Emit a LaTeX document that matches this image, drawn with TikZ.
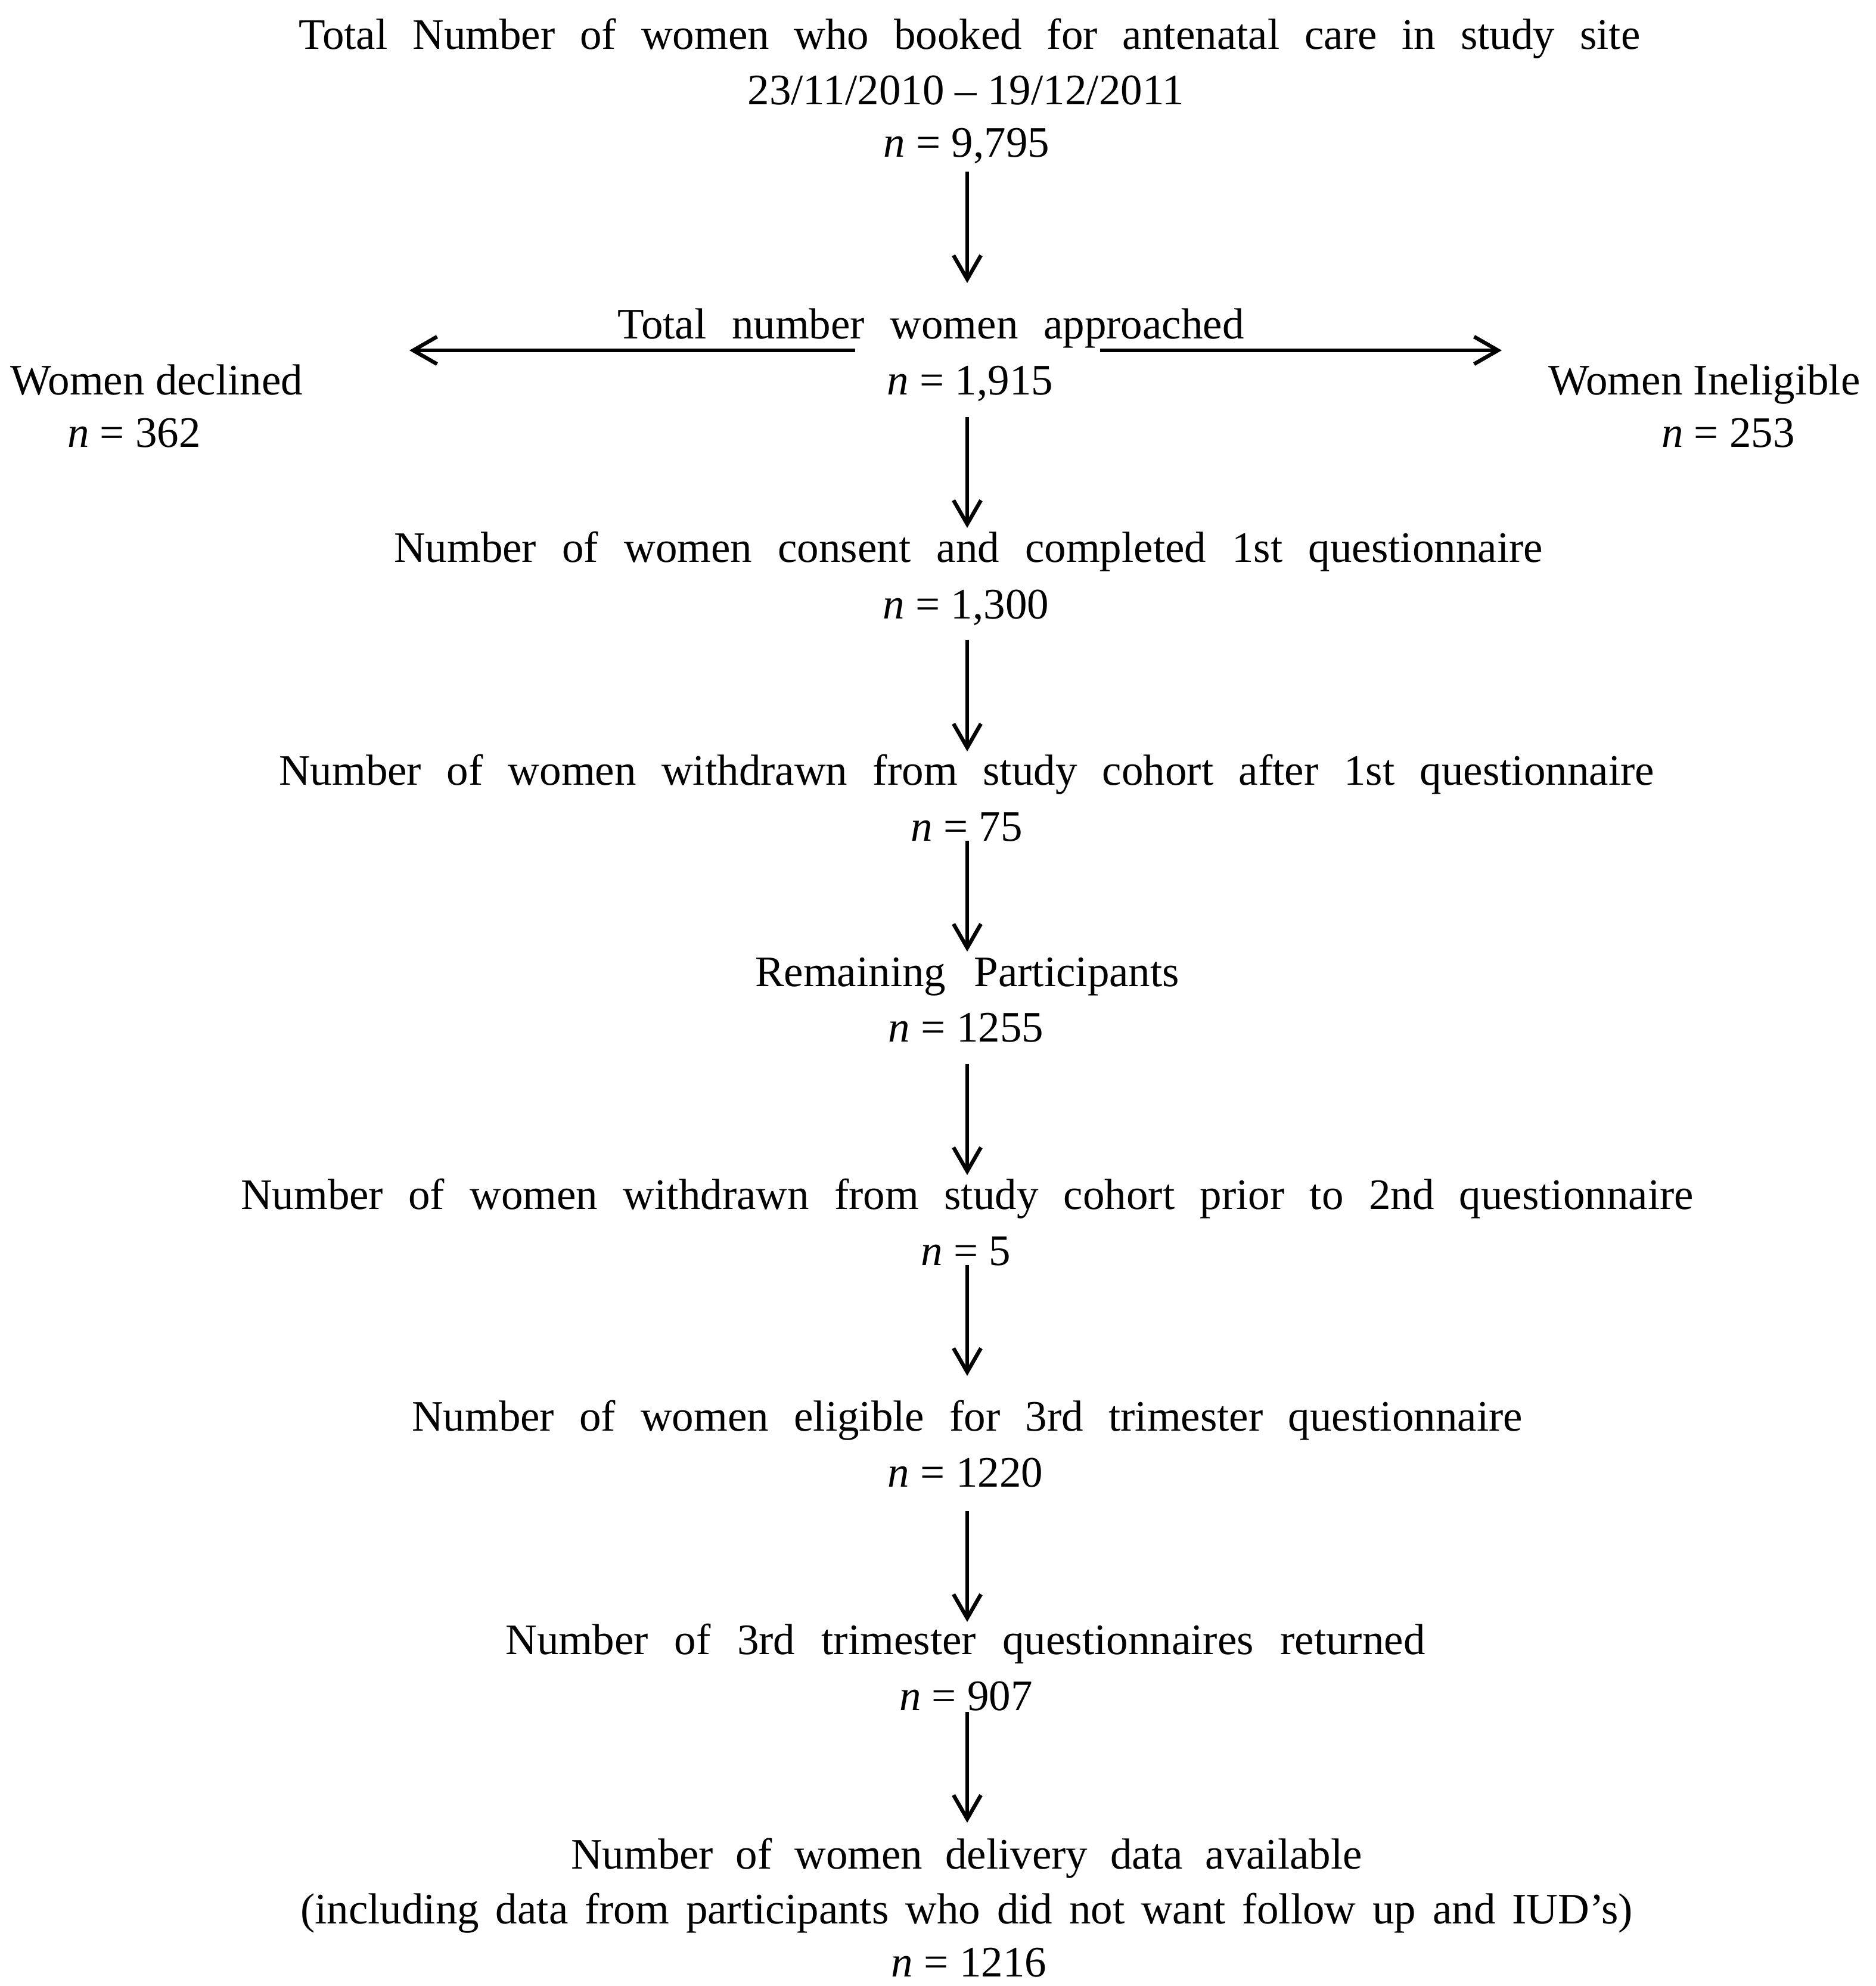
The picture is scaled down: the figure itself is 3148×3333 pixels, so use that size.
\documentclass[tikz,border=0pt]{standalone}
\usepackage{fontspec}
\setmainfont{Liberation Serif}
\usetikzlibrary{arrows.meta}
\newcommand\stretchline[2]{\makebox[#1][s]{#2}}
\begin{document}
\begin{tikzpicture}[x=0.25pt,y=-0.25pt,
  txt/.style={inner sep=0pt, anchor=base, font=\fontsize{18.25pt}{23pt}\selectfont},
  flow/.style={line width=1.6pt, -{Straight Barb[length=10pt,width=11.5pt]}}]
\useasboundingbox (0,0) rectangle (3148,3333);
% texts
\node[txt] (t1) at (1627,82) {\stretchline{562.75pt}{Total Number of women who booked for antenatal care in study site}};
\node[txt] (t2) at (1621,175) {23/11/2010 – 19/12/2011};
\node[txt] (t3) at (1622,263) {\textit{n} = 9,795};
\node[txt] (ap) at (1562,568) {\stretchline{262.75pt}{Total number women approached}};
\node[txt] (apn) at (1628,662) {\textit{n} = 1,915};
\node[txt] (dec) at (263,662) {Women declined};
\node[txt] (decn) at (225,750) {\textit{n} = 362};
\node[txt] (inel) at (2860,662) {Women Ineligible};
\node[txt] (ineln) at (2900,750) {\textit{n} = 253};
\node[txt] (c1) at (1625,943) {\stretchline{482pt}{Number of women consent and completed 1st questionnaire}};
\node[txt] (c1n) at (1621,1038) {\textit{n} = 1,300};
\node[txt] (w1) at (1622,1317) {\stretchline{577pt}{Number of women withdrawn from study cohort after 1st questionnaire}};
\node[txt] (w1n) at (1622,1411) {\textit{n} = 75};
\node[txt] (r) at (1623,1655) {\stretchline{178pt}{Remaining Participants}};
\node[txt] (rn) at (1621,1748) {\textit{n} = 1255};
\node[txt] (w2) at (1623,2029) {\stretchline{609.5pt}{Number of women withdrawn from study cohort prior to 2nd questionnaire}};
\node[txt] (w2n) at (1621,2123) {\textit{n} = 5};
\node[txt] (e) at (1623,2401) {\stretchline{466pt}{Number of women eligible for 3rd trimester questionnaire}};
\node[txt] (en) at (1620,2495) {\textit{n} = 1220};
\node[txt] (q) at (1620,2776) {\stretchline{385.75pt}{Number of 3rd trimester questionnaires returned}};
\node[txt] (qn) at (1621,2870) {\textit{n} = 907};
\node[txt] (d1) at (1622,3136) {\stretchline{332pt}{Number of women delivery data available}};
\node[txt] (d2) at (1622,3228) {\stretchline{559pt}{(including data from participants who did not want follow up and IUD’s)}};
\node[txt] (dn) at (1626,3317) {\textit{n} = 1216};
% arrow end points
\coordinate (a1s) at (1623,288);  \coordinate (a1e) at (1623,475);
\coordinate (hls) at (1435,588);  \coordinate (hle) at (687,588);
\coordinate (hrs) at (1846,588);  \coordinate (hre) at (2520,588);
\coordinate (a2s) at (1623,700);  \coordinate (a2e) at (1623,886);
\coordinate (a3s) at (1623,1074); \coordinate (a3e) at (1623,1261);
\coordinate (a4s) at (1623,1411); \coordinate (a4e) at (1623,1597);
\coordinate (a5s) at (1623,1786); \coordinate (a5e) at (1623,1972);
\coordinate (a6s) at (1623,2123); \coordinate (a6e) at (1623,2309);
\coordinate (a7s) at (1623,2536); \coordinate (a7e) at (1623,2722);
\coordinate (a8s) at (1623,2873); \coordinate (a8e) at (1623,3059);
% connectors
\draw[flow] (a1s) -- (a1e);
\draw[flow] (hls) -- (hle);
\draw[flow] (hrs) -- (hre);
\draw[flow] (a2s) -- (a2e);
\draw[flow] (a3s) -- (a3e);
\draw[flow] (a4s) -- (a4e);
\draw[flow] (a5s) -- (a5e);
\draw[flow] (a6s) -- (a6e);
\draw[flow] (a7s) -- (a7e);
\draw[flow] (a8s) -- (a8e);
\end{tikzpicture}
\end{document}
